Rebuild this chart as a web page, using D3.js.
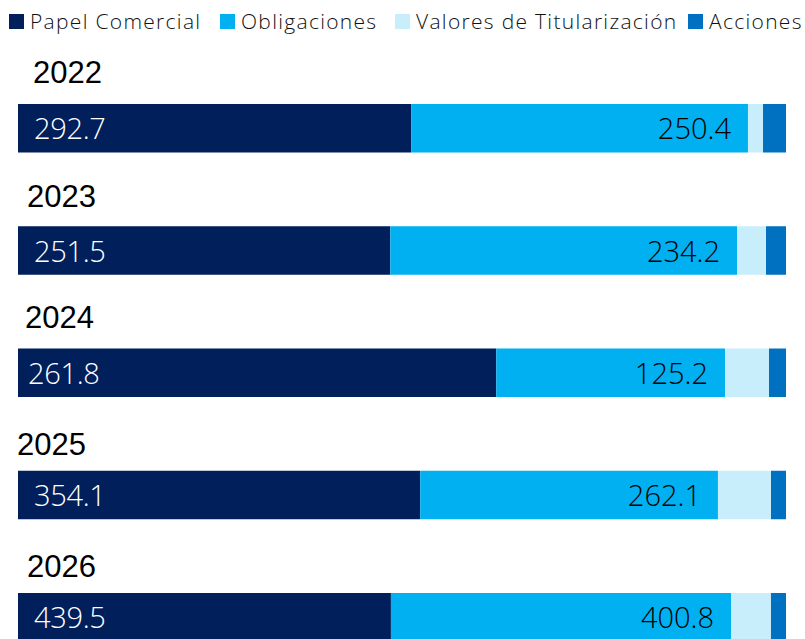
<!DOCTYPE html>
<html><head><meta charset="utf-8">
<script src="https://cdn.jsdelivr.net/npm/d3@7"></script>
<style>html,body{margin:0;padding:0;background:#fff;overflow:hidden}</style>
</head><body>
<svg id="chart" width="805" height="639"></svg>
<script>
// ---- data ----
const years = ["2022","2023","2024","2025","2026"];
const seriesNames = ["Papel Comercial","Obligaciones","Valores de Titularización","Acciones"];
const papelComercial = [292.7, 251.5, 261.8, 354.1, 439.5];
const obligaciones   = [250.4, 234.2, 125.2, 262.1, 400.8];
const valoresTit     = [11.2, 19.6, 24.1, 46.7, 47.1];
const acciones       = [17.1, 13.5, 9.3, 13.2, 17.7];
const colors = ["#001F5B","#00B0F0","#C9EEFB","#0070C0"];

// ---- layout (not data) ----
const yearLabelDx = [15, 9, 7, -1, 9];
const yearLabelDy = [-21, -19, -21, -16, -16];

const svg = d3.select("#chart");
const left = 18, right = 786;

const rows = years.map((y,i)=>({year:y, vals:[papelComercial[i],obligaciones[i],valoresTit[i],acciones[i]]}));
rows.forEach(r=>{
  const tot = d3.sum(r.vals);
  let acc = 0;
  r.segs = r.vals.map((v,k)=>{const s={k, v, x0:acc/tot, x1:(acc+v)/tot}; acc+=v; return s;});
});

const x = d3.scaleLinear().domain([0,1]).range([left,right]);
const step = 122.25, bh = 48.5;
const y = d3.scalePoint().domain(years).range([104, 104+step*4]);

const row = svg.append("g").selectAll("g.row").data(rows).join("g").attr("class","row")
  .attr("transform",d=>`translate(0,${y(d.year)})`);

row.selectAll("rect").data(d=>d.segs).join("rect")
  .attr("x",d=>x(d.x0)).attr("width",d=>x(d.x1)-x(d.x0))
  .attr("y",0).attr("height",bh)
  .attr("fill",d=>colors[d.k]);

// year labels
row.append("text")
  .attr("x",(d,i)=>left+yearLabelDx[i])
  .attr("y",(d,i)=>yearLabelDy[i])
  .attr("font-family","'Liberation Sans', Arial, sans-serif")
  .attr("font-size",31)
  .attr("fill","#000")
  .text(d=>d.year);

// papel labels
row.append("text")
  .attr("x",(d,i)=>x(0)+ (i===2?10:16))
  .attr("y",bh/2+11)
  .attr("font-family","'Open Sans', sans-serif")
  .attr("font-weight",300)
  .attr("font-size",29)
  .attr("letter-spacing",-0.3)
  .attr("fill","#fff")
  .text(d=>d3.format(".1f")(d.vals[0]));

// obligaciones labels
row.append("text")
  .attr("x",d=>x(d.segs[1].x1)-17)
  .attr("y",bh/2+11)
  .attr("text-anchor","end")
  .attr("font-family","'Open Sans', sans-serif")
  .attr("font-weight",300)
  .attr("font-size",29)
  .attr("letter-spacing",0)
  .attr("fill","#000")
  .text(d=>d3.format(".1f")(d.vals[1]));

// legend
const legendX = [9, 220, 395, 688];
const leg = svg.append("g").selectAll("g").data(seriesNames).join("g")
  .attr("transform",(d,i)=>`translate(${legendX[i]},14)`);
leg.append("rect").attr("width",15).attr("height",15).attr("fill",(d,i)=>colors[i]);
leg.append("text").attr("x",21).attr("y",14.5)
  .attr("font-family","'Open Sans', sans-serif")
  .attr("font-weight",300)
  .attr("font-size",21)
  .attr("letter-spacing",1.3)
  .attr("fill","#111")
  .text(d=>d);
</script>
</body></html>
